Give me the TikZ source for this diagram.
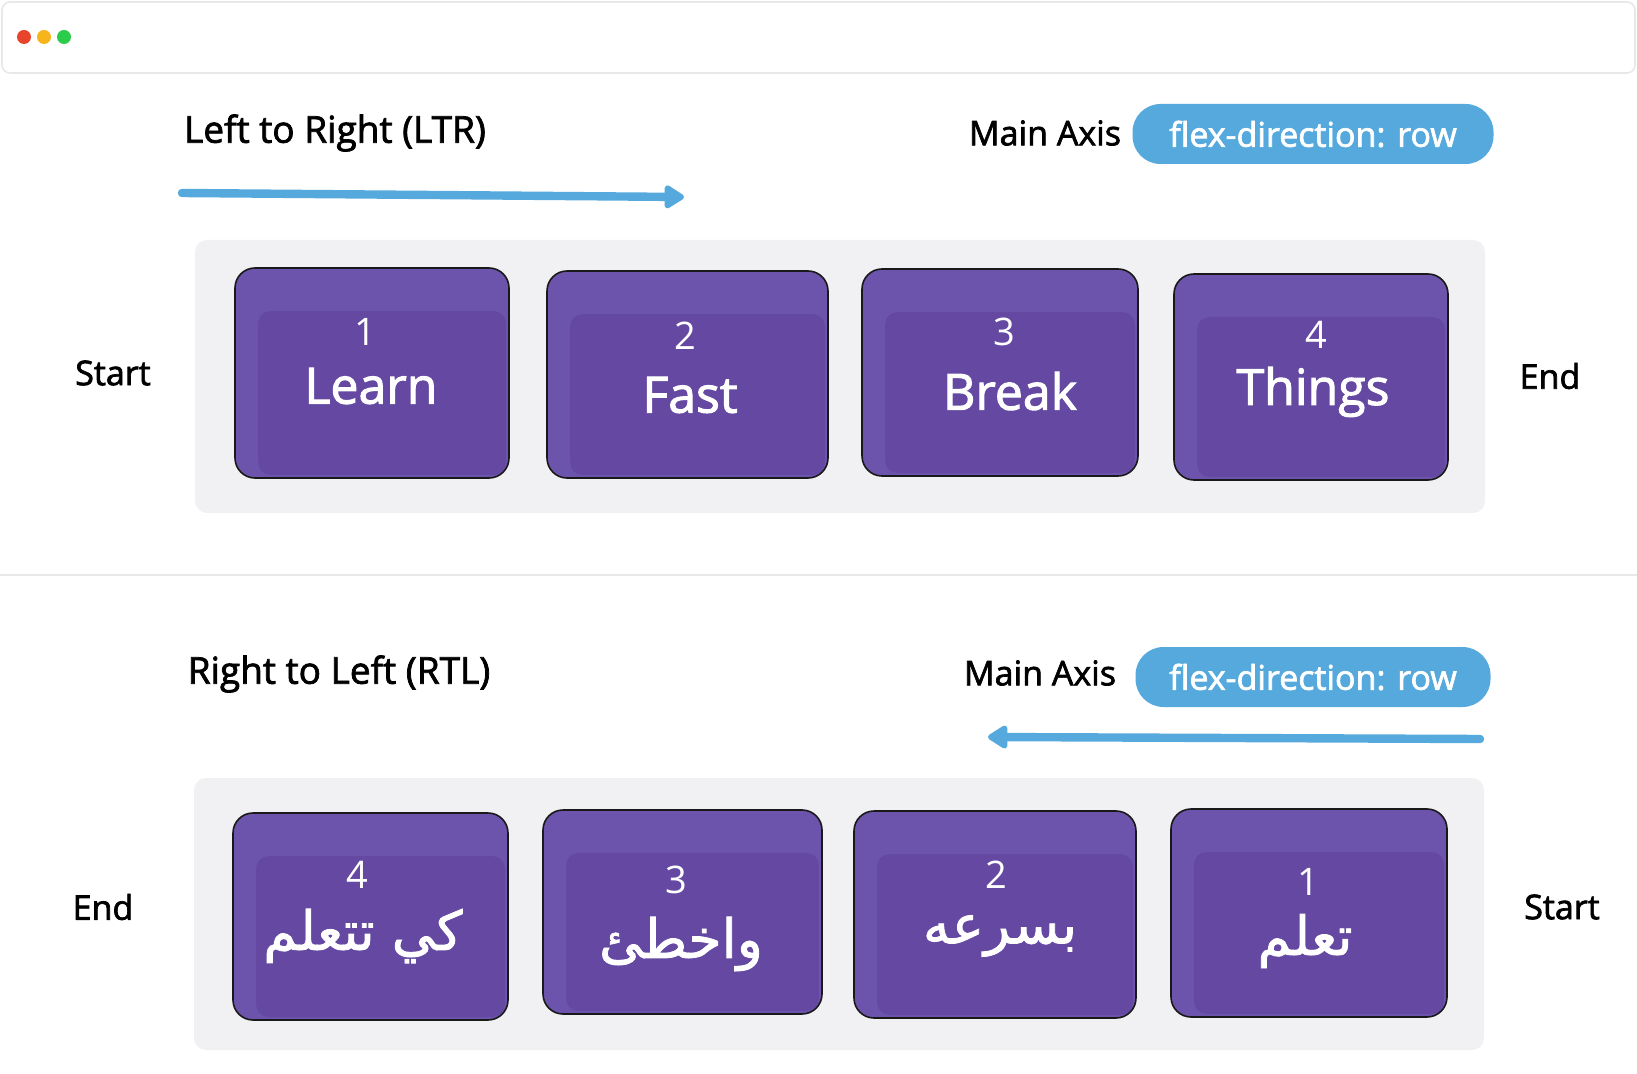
\documentclass[tikz,border=0pt]{standalone}
\usepackage{fontspec}
\setmainfont{Open Sans}
\newfontfamily\medfont{Open Sans}[BoldFont={Open Sans}, BoldFeatures={FakeBold=2}]
\newfontfamily\arabicfont[Script=Arabic, BoldFont={DejaVu Sans}, BoldFeatures={FakeBold=1.5}]{DejaVu Sans}
\TeXXeTstate=1
\usetikzlibrary{arrows.meta}
\definecolor{boxlight}{HTML}{6C53AB}
\definecolor{boxdark}{HTML}{6448A2}
\definecolor{panel}{HTML}{F1F1F4}
\definecolor{axisblue}{HTML}{56A9DD}
\definecolor{chrome}{HTML}{E8E8E8}
\definecolor{dotred}{HTML}{E8432B}
\definecolor{dotyellow}{HTML}{F5B51B}
\definecolor{dotgreen}{HTML}{2BCB4B}
\tikzset{
  itembox/.style={draw=black!90, line width=0.8pt, fill=boxlight, rounded corners=10pt, inner sep=0pt},
  numtxt/.style={text=white, font=\medfont\fontsize{19}{22}\selectfont, inner sep=0pt},
  wordtxt/.style={text=white, font=\medfont\bfseries\fontsize{25}{30}\selectfont, inner sep=0pt},
  artxt/.style={text=white, font=\arabicfont\bfseries\fontsize{27}{32}\selectfont, inner sep=0pt},
  lbl/.style={text=black, font=\medfont\bfseries\fontsize{17}{20}\selectfont, inner sep=0pt},
  dirlbl/.style={text=black, font=\medfont\bfseries\fontsize{18.5}{22}\selectfont, inner sep=0pt},
  pill/.style={fill=axisblue, rounded corners=14pt, text=white, font=\medfont\bfseries\fontsize{17}{20}\selectfont, inner sep=0pt},
  panelbox/.style={fill=panel, rounded corners=6pt, inner sep=0pt},
  axisarrow/.style={draw=axisblue, line width=4.2pt, line cap=round},
  dot/.style={circle, inner sep=0pt, minimum size=7pt}
}
\begin{document}
\begin{tikzpicture}[x=0.5pt,y=-0.5pt]
\useasboundingbox (0,0) rectangle (1637,1074);
\fill[white] (0,0) rectangle (1637,1074);
% window chrome
\draw[chrome, fill=white, line width=0.8pt, rounded corners=4pt] (2,2) rectangle (1635,73);
\node[dot, fill=dotred] (d1) at (24,37) {};
\node[dot, fill=dotyellow] (d2) at (44,37) {};
\node[dot, fill=dotgreen] (d3) at (64,37) {};
% divider
\draw[chrome, line width=0.8pt] (0,575) -- (1637,575);

% ===== TOP (LTR) =====
\node[dirlbl] (ltr) at (335,133) {Left to Right (LTR)};
\node[lbl] (ax1) at (1045,133) {Main Axis};
\node[pill, minimum width=180.5pt, minimum height=30pt] (p1) at (1313,134) {flex-direction: row};
\coordinate (a1s) at (182,193);
\coordinate (a1e) at (684,197);
\draw[axisarrow, -{Triangle[length=11pt,width=13pt,round]}] (a1s) -- (a1e);

\node[panelbox, minimum width=645pt, minimum height=136.5pt] (panel1) at (840,376.5) {};
\node[lbl] (st1) at (113,373) {Start};
\node[lbl] (en1) at (1550,376) {End};

\node[itembox, minimum width=137pt, minimum height=105pt] (b1) at (372,373) {};
\node[itembox, minimum width=140.5pt, minimum height=103.5pt] (b2) at (687.5,374.5) {};
\node[itembox, minimum width=138pt, minimum height=103.5pt] (b3) at (1000,372.5) {};
\node[itembox, minimum width=137pt, minimum height=103pt] (b4) at (1311,377) {};
\foreach \b in {b1,b2,b3,b4}{
  \fill[boxdark, rounded corners=6pt] ([xshift=12pt,yshift=-22pt]\b.north west) rectangle ([xshift=-2pt,yshift=2pt]\b.south east);
}
\node[numtxt] (n1) at (365,332) {1};
\node[wordtxt] (w1) at (371,386) {Learn};
\node[numtxt] (n2) at (685,336) {2};
\node[wordtxt] (w2) at (690,395) {Fast};
\node[numtxt] (n3) at (1004,332) {3};
\node[wordtxt] (w3) at (1010,391) {Break};
\node[numtxt] (n4) at (1316,335) {4};
\node[wordtxt] (w4) at (1313,392) {Things};

% ===== BOTTOM (RTL) =====
\node[dirlbl] (rtl) at (339,674) {Right to Left (RTL)};
\node[lbl] (ax2) at (1040,673) {Main Axis};
\node[pill, minimum width=177.5pt, minimum height=30pt] (p2) at (1313,677) {flex-direction: row};
\coordinate (a2s) at (1480,739);
\coordinate (a2e) at (988,737);
\draw[axisarrow, -{Triangle[length=11pt,width=13pt,round]}] (a2s) -- (a2e);

\node[panelbox, minimum width=645pt, minimum height=136pt] (panel2) at (839,914) {};
\node[lbl] (en2) at (103,907) {End};
\node[lbl] (st2) at (1562,907) {Start};

\node[itembox, minimum width=137.5pt, minimum height=103.5pt] (c4) at (370.5,916.5) {};
\node[itembox, minimum width=139.5pt, minimum height=102pt] (c3) at (682.5,912) {};
\node[itembox, minimum width=141pt, minimum height=103.5pt] (c2) at (995,914.5) {};
\node[itembox, minimum width=138pt, minimum height=104pt] (c1) at (1309,913) {};
\foreach \b in {c1,c2,c3,c4}{
  \fill[boxdark, rounded corners=6pt] ([xshift=12pt,yshift=-22pt]\b.north west) rectangle ([xshift=-2pt,yshift=2pt]\b.south east);
}
\node[numtxt] (m4) at (357,875) {4};
\node[artxt] (v4) at (363,936) {\beginR كي تتعلم\endR};
\node[numtxt] (m3) at (676,880) {3};
\node[artxt] (v3) at (681,944) {\beginR واخطئ\endR};
\node[numtxt] (m2) at (996,875) {2};
\node[artxt] (v2) at (1000,936) {\beginR بسرعه\endR};
\node[numtxt] (m1) at (1308,882) {1};
\node[artxt] (v1) at (1305,941) {\beginR تعلم\endR};
\end{tikzpicture}
\end{document}
